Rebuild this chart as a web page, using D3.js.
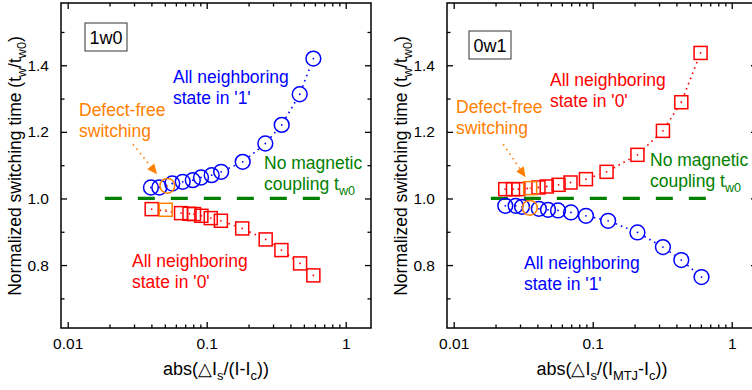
<!DOCTYPE html>
<html>
<head>
<meta charset="utf-8">
<script src="https://cdn.jsdelivr.net/npm/d3@7"></script>
<style>
  body { margin: 0; background: #fff; }
  svg { display: block; font-family: "Liberation Sans", Arial, sans-serif; }
</style>
</head>
<body>
<svg id="chart" width="752" height="390"></svg>
<script>
// ---- data ----
// left panel (1w0)
const leftOnesX = [0.0397, 0.0456, 0.0565, 0.0672, 0.0794, 0.091, 0.1086, 0.127, 0.1815, 0.264, 0.3464, 0.4667, 0.585];
const leftOnesY = [1.033, 1.033, 1.045, 1.050, 1.055, 1.063, 1.070, 1.080, 1.110, 1.165, 1.221, 1.313, 1.420];
const leftZerosX = [0.0402, 0.0654, 0.0752, 0.081, 0.0915, 0.107, 0.1265, 0.180, 0.2656, 0.3446, 0.4695, 0.585];
const leftZerosY = [0.968, 0.956, 0.954, 0.953, 0.948, 0.941, 0.933, 0.910, 0.877, 0.845, 0.805, 0.769];
const leftFreeCircle = [0.0521, 1.038];
const leftFreeSquare = [0.0507, 0.966];

// right panel (0w1)
const rightZerosX = [0.0235, 0.0267, 0.0292, 0.0407, 0.0467, 0.0568, 0.0692, 0.0894, 0.1258, 0.2098, 0.320, 0.4338, 0.597];
const rightZerosY = [1.028, 1.028, 1.028, 1.033, 1.036, 1.041, 1.048, 1.058, 1.080, 1.131, 1.203, 1.289, 1.437];
const rightOnesX = [0.0235, 0.0279, 0.0310, 0.0410, 0.0477, 0.0563, 0.0698, 0.0894, 0.1291, 0.2098, 0.320, 0.4338, 0.6065];
const rightOnesY = [0.978, 0.978, 0.975, 0.969, 0.966, 0.964, 0.958, 0.948, 0.933, 0.898, 0.854, 0.815, 0.764];
const rightFreeCircle = [0.0353, 0.972];
const rightFreeSquare = [0.0355, 1.031];

// reference line t_w0
const refLineX = [0.0185, 0.67];
const refLineY = 1.0;

// axes
const xDomain = [0.00895, 1.52];
const yDomain = [0.611, 1.587];
const xMajor = [0.01, 0.1, 1];
const xMinor = [0.02, 0.03, 0.04, 0.05, 0.06, 0.07, 0.08, 0.09, 0.2, 0.3, 0.4, 0.5, 0.6, 0.7, 0.8, 0.9];
const yMajor = [0.8, 1.0, 1.2, 1.4];
const yMinor = [0.7, 0.9, 1.1, 1.3, 1.5];

const BLUE = '#0000ff', RED = '#ff0000', ORANGE = '#ff8000', GREEN = '#008000';

const svg = d3.select('#chart');

function addSub(text, parts, fs) {
  // parts: [str, isSub]
  parts.forEach(([s, sub], i) => {
    const t = text.append('tspan').text(s);
    const prevSub = i > 0 && parts[i - 1][1];
    if (sub) t.attr('dy', prevSub ? 0 : fs * 0.3).attr('font-size', fs * 0.72);
    else if (prevSub) t.attr('dy', -fs * 0.3);
  });
}

function drawPanel(cfg) {
  const x = d3.scaleLog().domain(xDomain).range([cfg.left, cfg.left + 310]);
  const y = d3.scaleLinear().domain(yDomain).range([328, 3]);
  const g = svg.append('g');

  // reference dashed line
  g.append('line')
    .attr('x1', x(refLineX[0])).attr('x2', x(refLineX[1]))
    .attr('y1', y(refLineY)).attr('y2', y(refLineY))
    .attr('stroke', GREEN).attr('stroke-width', 3.2)
    .attr('stroke-dasharray', '17,16');

  // dotted connecting lines, gapped around markers
  function dotted(xs, ys, color, gap) {
    for (let i = 0; i < xs.length - 1; i++) {
      const ax = x(xs[i]), ay = y(ys[i]), bx = x(xs[i + 1]), by = y(ys[i + 1]);
      const d = Math.hypot(bx - ax, by - ay);
      if (d <= gap * 2 + 2) continue;
      const ux = (bx - ax) / d, uy = (by - ay) / d;
      g.append('line')
        .attr('x1', ax + ux * gap).attr('y1', ay + uy * gap)
        .attr('x2', bx - ux * gap).attr('y2', by - uy * gap)
        .attr('stroke', color).attr('stroke-width', 1.6)
        .attr('stroke-dasharray', '1.6,4');
    }
  }
  dotted(cfg.ones[0], cfg.ones[1], BLUE, 8);
  dotted(cfg.zeros[0], cfg.zeros[1], RED, 8);

  function circles(pts, color) {
    g.append('g').selectAll('circle.m').data(pts).join('circle')
      .attr('cx', d => x(d[0])).attr('cy', d => y(d[1])).attr('r', 7.4)
      .attr('fill', 'none').attr('stroke', color).attr('stroke-width', 1.5);
    g.append('g').selectAll('circle.c').data(pts).join('circle')
      .attr('cx', d => x(d[0])).attr('cy', d => y(d[1])).attr('r', 0.9)
      .attr('fill', color);
  }
  function squares(pts, color) {
    g.append('g').selectAll('rect').data(pts).join('rect')
      .attr('x', d => x(d[0]) - 6.5).attr('y', d => y(d[1]) - 6.5)
      .attr('width', 13).attr('height', 13)
      .attr('fill', 'none').attr('stroke', color).attr('stroke-width', 1.5);
    g.append('g').selectAll('circle').data(pts).join('circle')
      .attr('cx', d => x(d[0])).attr('cy', d => y(d[1])).attr('r', 0.9)
      .attr('fill', color);
  }
  const zip = (a, b) => a.map((v, i) => [v, b[i]]);
  squares(zip(cfg.zeros[0], cfg.zeros[1]), RED);
  circles(zip(cfg.ones[0], cfg.ones[1]), BLUE);
  squares([cfg.freeSquare], ORANGE);
  circles([cfg.freeCircle], ORANGE);

  // frame
  g.append('rect')
    .attr('x', cfg.left).attr('y', 3).attr('width', 310).attr('height', 325)
    .attr('fill', 'none').attr('stroke', '#000').attr('stroke-width', 1.5);

  // axes
  const styleAxis = sel => {
    sel.select('.domain').remove();
    sel.selectAll('line').attr('stroke', '#000').attr('stroke-width', 1.3);
    sel.selectAll('text').attr('font-size', 15.5).attr('fill', '#000')
      .attr('font-family', '"Liberation Sans", Arial, sans-serif');
  };
  const fmtX = d => d === 1 ? '1' : String(d);
  g.append('g').attr('transform', `translate(0,328)`)
    .call(d3.axisBottom(x).tickValues(xMajor).tickFormat(fmtX).tickSize(-6).tickPadding(10))
    .call(styleAxis);
  g.append('g').attr('transform', `translate(0,328)`)
    .call(d3.axisBottom(x).tickValues(xMinor).tickFormat('').tickSize(-3.5))
    .call(styleAxis);
  g.append('g').attr('transform', `translate(0,3)`)
    .call(d3.axisTop(x).tickValues(xMajor).tickFormat('').tickSize(-6))
    .call(styleAxis);
  g.append('g').attr('transform', `translate(0,3)`)
    .call(d3.axisTop(x).tickValues(xMinor).tickFormat('').tickSize(-3.5))
    .call(styleAxis);
  g.append('g').attr('transform', `translate(${cfg.left},0)`)
    .call(d3.axisLeft(y).tickValues(yMajor).tickFormat(d3.format('.1f')).tickSize(-6).tickPadding(12))
    .call(styleAxis);
  g.append('g').attr('transform', `translate(${cfg.left},0)`)
    .call(d3.axisLeft(y).tickValues(yMinor).tickFormat('').tickSize(-3.5))
    .call(styleAxis);
  g.append('g').attr('transform', `translate(${cfg.left + 310},0)`)
    .call(d3.axisRight(y).tickValues(yMajor).tickFormat('').tickSize(-6))
    .call(styleAxis);
  g.append('g').attr('transform', `translate(${cfg.left + 310},0)`)
    .call(d3.axisRight(y).tickValues(yMinor).tickFormat('').tickSize(-3.5))
    .call(styleAxis);

  // axis titles
  const yt = g.append('text')
    .attr('transform', `translate(${cfg.left - 40},166) rotate(-90)`)
    .attr('text-anchor', 'middle').attr('font-size', 17.5);
  addSub(yt, [['Normalized switching time (t', false], ['w', true], ['/t', false], ['w0', true], [')', false]], 17.5);

  const xt = g.append('text')
    .attr('x', cfg.left + 155).attr('y', 375)
    .attr('text-anchor', 'middle').attr('font-size', 18);
  addSub(xt, cfg.xTitle, 18);

  // panel label box
  g.append('rect')
    .attr('x', cfg.box[0]).attr('y', cfg.box[1]).attr('width', 42).attr('height', 28)
    .attr('fill', '#fff').attr('stroke', '#333').attr('stroke-width', 1);
  g.append('text')
    .attr('x', cfg.box[0] + 21).attr('y', cfg.box[1] + 20.5)
    .attr('text-anchor', 'middle').attr('font-size', 18).text(cfg.label);

  // annotations
  cfg.notes.forEach(n => {
    n.lines.forEach((ln, i) => {
      const t = g.append('text')
        .attr('x', n.x).attr('y', n.y + i * 21)
        .attr('font-size', 17.5).attr('fill', n.color);
      addSub(t, ln, 17.5);
    });
  });

  // arrow to defect-free points
  const ax = x(cfg.arrow[0][0]), ay = y(cfg.arrow[0][1]);
  const bx = x(cfg.arrow[1][0]), by = y(cfg.arrow[1][1]);
  const ang = Math.atan2(by - ay, bx - ax);
  const hl = 10, hw = 4.5;
  const cx = bx - Math.cos(ang) * hl, cy = by - Math.sin(ang) * hl;
  g.append('line')
    .attr('x1', ax).attr('y1', ay).attr('x2', cx).attr('y2', cy)
    .attr('stroke', ORANGE).attr('stroke-width', 1.6).attr('stroke-dasharray', '1.6,4');
  g.append('path')
    .attr('d', `M${bx},${by}L${cx - Math.sin(ang) * hw},${cy + Math.cos(ang) * hw}L${cx + Math.sin(ang) * hw},${cy - Math.cos(ang) * hw}Z`)
    .attr('fill', ORANGE);
}

drawPanel({
  left: 61,
  ones: [leftOnesX, leftOnesY],
  zeros: [leftZerosX, leftZerosY],
  freeCircle: leftFreeCircle,
  freeSquare: leftFreeSquare,
  label: '1w0',
  box: [85, 23],
  xTitle: [['abs(\u25B3I', false], ['s', true], ['/(I-I', false], ['c', true], ['))', false]],
  arrow: [[0.0295, 1.163], [0.0439, 1.073]],
  notes: [
    { x: 173, y: 83, color: BLUE, lines: [[['All neighboring', false]], [["state in '1'", false]]] },
    { x: 79, y: 115.5, color: ORANGE, lines: [[['Defect-free', false]], [['switching', false]]] },
    { x: 264, y: 169, color: GREEN, lines: [[['No magnetic', false]], [['coupling t', false], ['w0', true]]] },
    { x: 132, y: 267, color: RED, lines: [[['All neighboring', false]], [["state in '0'", false]]] }
  ]
});

drawPanel({
  left: 447,
  ones: [rightOnesX, rightOnesY],
  zeros: [rightZerosX, rightZerosY],
  freeCircle: rightFreeCircle,
  freeSquare: rightFreeSquare,
  label: '0w1',
  box: [469, 31],
  xTitle: [['abs(\u25B3I', false], ['s', true], ['/(I', false], ['MTJ', true], ['-I', false], ['c', true], ['))', false]],
  arrow: [[0.0227, 1.163], [0.0329, 1.064]],
  notes: [
    { x: 550, y: 85.5, color: RED, lines: [[['All neighboring', false]], [["state in '0'", false]]] },
    { x: 456, y: 112.5, color: ORANGE, lines: [[['Defect-free', false]], [['switching', false]]] },
    { x: 650, y: 166, color: GREEN, lines: [[['No magnetic', false]], [['coupling t', false], ['w0', true]]] },
    { x: 524, y: 269, color: BLUE, lines: [[['All neighboring', false]], [["state in '1'", false]]] }
  ]
});
</script>
</body>
</html>
